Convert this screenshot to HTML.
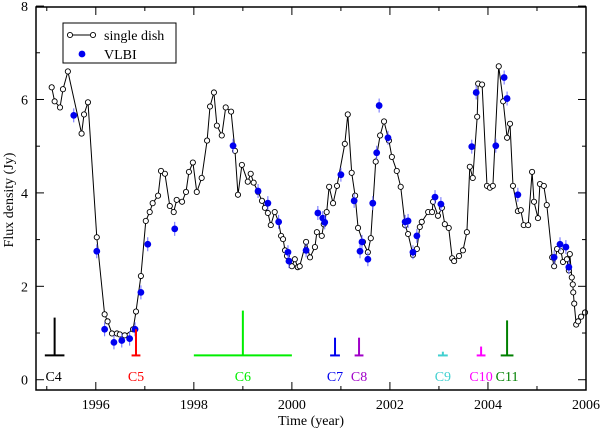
<!DOCTYPE html>
<html><head><meta charset="utf-8"><style>
html,body{margin:0;padding:0;background:#fff;}
svg{display:block;font-family:"Liberation Serif",serif;}
</style></head><body>
<svg id="chart" width="600" height="428" viewBox="0 0 600 428" xmlns="http://www.w3.org/2000/svg">
<g id="marks"></g>
<g id="axes"></g>
</svg>
<script>
const sdYears=[1995.10,1995.16,1995.27,1995.33,1995.43,1995.71,1995.76,1995.84,1996.02,1996.18,1996.24,1996.33,1996.43,1996.49,1996.59,1996.76,1996.82,1996.92,1997.02,1997.10,1997.16,1997.27,1997.33,1997.41,1997.51,1997.59,1997.65,1997.76,1997.84,1997.90,1997.98,1998.06,1998.16,1998.27,1998.33,1998.41,1998.47,1998.57,1998.65,1998.76,1998.84,1998.90,1998.98,1999.10,1999.16,1999.22,1999.31,1999.39,1999.45,1999.51,1999.57,1999.65,1999.73,1999.78,1999.82,1999.86,1999.90,2000.00,2000.06,2000.12,2000.16,2000.29,2000.37,2000.47,2000.51,2000.61,2000.65,2000.71,2000.76,2000.84,2000.92,2001.08,2001.14,2001.22,2001.29,2001.35,2001.45,2001.55,2001.61,2001.71,2001.80,2001.88,2001.98,2002.04,2002.14,2002.22,2002.31,2002.37,2002.47,2002.55,2002.61,2002.65,2002.78,2002.86,2002.88,2002.98,2003.06,2003.12,2003.20,2003.27,2003.31,2003.41,2003.49,2003.57,2003.63,2003.69,2003.78,2003.80,2003.88,2003.98,2004.04,2004.10,2004.22,2004.31,2004.39,2004.45,2004.51,2004.61,2004.67,2004.73,2004.82,2004.90,2004.94,2005.02,2005.06,2005.14,2005.20,2005.31,2005.35,2005.41,2005.49,2005.53,2005.61,2005.65,2005.67,2005.71,2005.73,2005.74,2005.76,2005.80,2005.84,2005.90,2005.98];
const sdFlux=[6.26,5.96,5.83,6.22,6.60,5.27,5.68,5.94,3.05,1.40,1.25,0.99,0.99,0.97,0.95,1.08,1.46,2.22,3.40,3.59,3.78,3.94,4.47,4.41,3.72,3.59,3.85,3.81,4.02,4.45,4.65,4.02,4.32,5.12,5.85,6.15,5.44,5.23,5.83,5.74,4.90,3.96,4.60,4.24,4.41,4.22,4.02,3.83,3.68,3.57,3.31,3.59,3.38,3.08,3.01,2.77,2.65,2.43,2.58,2.41,2.43,2.95,2.62,2.84,3.16,3.08,3.33,3.59,4.13,3.78,4.15,5.05,5.68,4.43,3.94,3.25,2.95,2.73,3.03,4.67,5.23,5.53,5.12,4.77,4.47,4.13,3.31,3.12,2.67,2.80,3.27,3.38,3.59,3.59,3.81,3.51,3.68,3.33,3.25,2.60,2.54,2.65,2.77,3.16,4.56,4.32,5.63,6.34,6.32,4.15,4.11,4.15,6.71,5.96,5.18,5.48,4.15,3.61,3.63,3.31,3.31,4.45,3.81,3.46,4.19,4.15,3.74,2.62,2.43,2.80,2.75,2.52,2.58,2.34,2.69,2.19,2.04,1.87,1.63,1.18,1.25,1.35,1.44];
const vlbiYears=[1995.55,1996.02,1996.18,1996.37,1996.53,1996.69,1996.80,1996.92,1997.06,1997.61,1998.80,1999.31,1999.51,1999.73,1999.92,1999.94,2000.29,2000.53,2000.63,2000.67,2001.00,2001.27,2001.43,2001.39,2001.55,2001.65,2001.73,2001.78,2001.96,2002.31,2002.37,2002.47,2002.55,2002.92,2003.04,2003.67,2003.76,2004.16,2004.33,2004.39,2004.61,2005.35,2005.47,2005.59,2005.65];
const vlbiFlux=[5.66,2.75,1.08,0.80,0.84,0.88,1.08,1.87,2.90,3.23,5.01,4.04,3.78,3.38,2.73,2.54,2.77,3.57,3.46,3.37,4.39,3.83,2.95,2.75,2.58,3.78,4.86,5.87,5.18,3.38,3.40,2.73,3.08,3.91,3.76,4.99,6.15,5.01,6.47,6.02,3.96,2.62,2.90,2.84,2.41];
const compNames=["C4","C5","C6","C7","C8","C9","C10","C11"];
const compYears=[1995.16,1996.82,1999.00,2000.88,2001.37,2003.08,2003.86,2004.39];
const compHalfWidth=[0.20,0.09,1.00,0.10,0.09,0.10,0.09,0.13];
const compTop=[1.33,1.08,1.48,0.90,0.90,0.60,0.71,1.27];
const compBase=0.52;
const compColors=["#000","#ff0000","#00ee00","#0000ee","#a000c8","#40d0d0","#ff00ff","#008000"];
const xTicks=[1996,1998,2000,2002,2004,2006];
const yTicks=[0,2,4,6,8];

const X0=1994.78,X1=2006,Y0=-0.22,Y1=7.98;
const L=36,R=586,T=7,B=390;
function sx(v){return L+(v-X0)/(X1-X0)*(R-L);}
function sy(v){return B-(v-Y0)/(Y1-Y0)*(B-T);}
const NS="http://www.w3.org/2000/svg";
function mk(tag,attrs,parent){const e=document.createElementNS(NS,tag);for(const k in attrs)e.setAttribute(k,attrs[k]);parent.appendChild(e);return e;}
const marks=document.getElementById('marks'),axes=document.getElementById('axes');

// single dish line
let d=sdYears.map((y,i)=>(i?'L':'M')+sx(y).toFixed(1)+' '+sy(sdFlux[i]).toFixed(1)).join(' ');
const line=mk('path',{d:d,fill:'none',stroke:'#000','stroke-width':1},marks);


sdYears.forEach((y,i)=>{
  const c=mk('circle',{cx:sx(y),cy:sy(sdFlux[i]),r:2.6,fill:'#fff',stroke:'#000','stroke-width':0.9},marks);
  
  
});
vlbiYears.forEach((y,i)=>{
  const eb=mk('line',{x1:sx(y),x2:sx(y),y1:sy(vlbiFlux[i])-7,y2:sy(vlbiFlux[i])+7,stroke:'#6a6aff','stroke-width':1},marks);
  
  
  const c=mk('circle',{cx:sx(y),cy:sy(vlbiFlux[i]),r:3.4,fill:'#0000f0'},marks);
  
  
});
compNames.forEach((n,i)=>{
  const g=mk('g',{},marks);
  
  
  const col=compColors[i];
  mk('line',{x1:sx(compYears[i]-compHalfWidth[i]),x2:sx(compYears[i]+compHalfWidth[i]),y1:sy(compBase),y2:sy(compBase),stroke:col,'stroke-width':2},g);
  mk('line',{x1:sx(compYears[i]),x2:sx(compYears[i]),y1:sy(compBase),y2:sy(compTop[i]),stroke:col,'stroke-width':2},g);
  const t=mk('text',{x:sx(compYears[i])+(i==0?-1:0),y:381,'text-anchor':'middle','font-size':14,fill:col},g);
  t.textContent=n;
});

// frame
const fr=mk('rect',{x:L,y:T,width:R-L,height:B-T,fill:'none',stroke:'#000','stroke-width':1.5},axes);


for(let y=1995;y<=2006;y++){
  const len=(y%2==0)?8:4;
  mk('line',{x1:sx(y),x2:sx(y),y1:B,y2:B-len,stroke:'#000','stroke-width':1},axes);
  mk('line',{x1:sx(y),x2:sx(y),y1:T,y2:T+len,stroke:'#000','stroke-width':1},axes);
}
for(let v=0;v<=8;v++){
  const len=(v%2==0)?8:4;
  mk('line',{x1:L,x2:L+len,y1:sy(v),y2:sy(v),stroke:'#000','stroke-width':1},axes);
  mk('line',{x1:R,x2:R-len,y1:sy(v),y2:sy(v),stroke:'#000','stroke-width':1},axes);
}
xTicks.forEach(v=>{
  const t=mk('text',{x:sx(v),y:409,'text-anchor':'middle','font-size':14},axes);
  
  
  t.textContent=v;
});
yTicks.forEach(v=>{
  const t=mk('text',{x:28,y:sy(v)+5,'text-anchor':'end','font-size':14},axes);
  
  
  t.textContent=v;
});
const xt=mk('text',{x:311,y:425,'text-anchor':'middle','font-size':14},axes);


xt.textContent='Time (year)';
const yt=mk('text',{x:0,y:0,'text-anchor':'middle','font-size':14,transform:'translate(13,200) rotate(-90)'},axes);


yt.textContent='Flux density (Jy)';

// legend
const lg=mk('g',{},axes);


mk('rect',{x:63,y:23,width:113,height:40,fill:'#fff',stroke:'#000','stroke-width':1},lg);
mk('line',{x1:70,x2:93,y1:35,y2:35,stroke:'#000','stroke-width':1},lg);
mk('circle',{cx:70,cy:35,r:2.6,fill:'#fff',stroke:'#000','stroke-width':0.9},lg);
mk('circle',{cx:93,cy:35,r:2.6,fill:'#fff',stroke:'#000','stroke-width':0.9},lg);
let t1=mk('text',{x:104,y:40,'font-size':14},lg);t1.textContent='single dish';


mk('circle',{cx:82,cy:54,r:3.4,fill:'#0000f0'},lg);
let t2=mk('text',{x:104,y:59,'font-size':14},lg);t2.textContent='VLBI';


</script>
</body></html>
